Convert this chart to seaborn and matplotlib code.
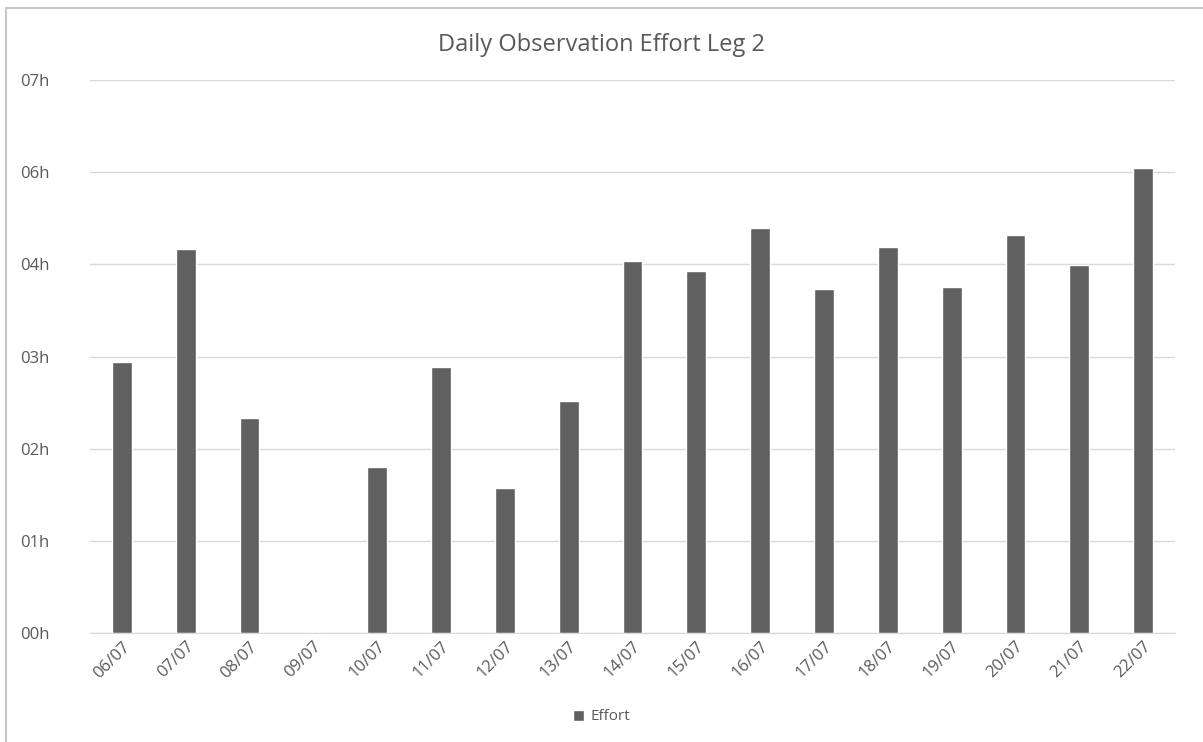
import matplotlib
matplotlib.use("Agg")
import matplotlib.pyplot as plt
import seaborn as sns
import pandas as pd

# data (hours of observation per day)
dates = ['06/07', '07/07', '08/07', '09/07', '10/07', '11/07', '12/07', '13/07',
         '14/07', '15/07', '16/07', '17/07', '18/07', '19/07', '20/07', '21/07', '22/07']
effort_hours = [3.53, 5.0, 2.80, 0.0, 2.16, 3.46, 1.89, 3.02,
                4.84, 4.71, 5.27, 4.48, 5.02, 4.51, 5.18, 4.79, 6.05]

# Excel used a 0.05 day (1.2h) major unit, shown as "hh"
ytick_values = [0, 1.2, 2.4, 3.6, 4.8, 6.0, 7.2]
ytick_labels = ['00h', '01h', '02h', '03h', '04h', '06h', '07h']

df = pd.DataFrame({'Date': dates, 'Effort': effort_hours})

sns.set_style("white")
plt.rcParams['font.family'] = ['Open Sans', 'DejaVu Sans']

text_col = '#595959'
bar_col = '#606060'

fig = plt.figure(figsize=(12.03, 7.42), dpi=100)
ax = fig.add_axes([90 / 1203, 1 - 633 / 742, (1175 - 90) / 1203, (633 - 80) / 742])

sns.barplot(data=df, x='Date', y='Effort', color=bar_col, width=0.31,
            saturation=1, ax=ax, label='Effort')

ax.set_ylim(0, 7.2)
ax.set_xlim(-0.5, len(dates) - 0.5)
ax.set_yticks(ytick_values)
ax.set_yticklabels(ytick_labels, color=text_col, fontsize=12)
ax.tick_params(axis='y', length=0, pad=50)
ax.tick_params(axis='x', length=0, pad=4)
plt.setp(ax.get_xticklabels(), rotation=45, ha='right', rotation_mode='anchor',
         color=text_col, fontsize=12)
for lbl in ax.get_yticklabels():
    lbl.set_horizontalalignment('left')
ax.yaxis.grid(True, color='#d9d9d9', linewidth=1)
ax.set_axisbelow(True)
for s in ['top', 'right', 'left']:
    ax.spines[s].set_visible(False)
ax.spines['bottom'].set_color('#d9d9d9')
ax.set_xlabel('')
ax.set_ylabel('')

fig.text(0.5, 1 - 45 / 742, 'Daily Observation Effort Leg 2', ha='center', va='center',
         fontsize=17, color=text_col)

leg = ax.legend(loc='center', bbox_to_anchor=(0.5, 1 - 717 / 742),
                bbox_transform=fig.transFigure, frameon=False, fontsize=11,
                handlelength=0.7, handleheight=0.7, handletextpad=0.4)
for t in leg.get_texts():
    t.set_color(text_col)

# chart border like the Excel chart area
fig.patches.append(plt.Rectangle((6 / 1203, -0.01), 1.2, 1 - 8 / 742 + 0.01,
                                 transform=fig.transFigure, fill=False,
                                 edgecolor='#c8c8c8', linewidth=1.5))

fig.savefig('out.png', dpi=100)
